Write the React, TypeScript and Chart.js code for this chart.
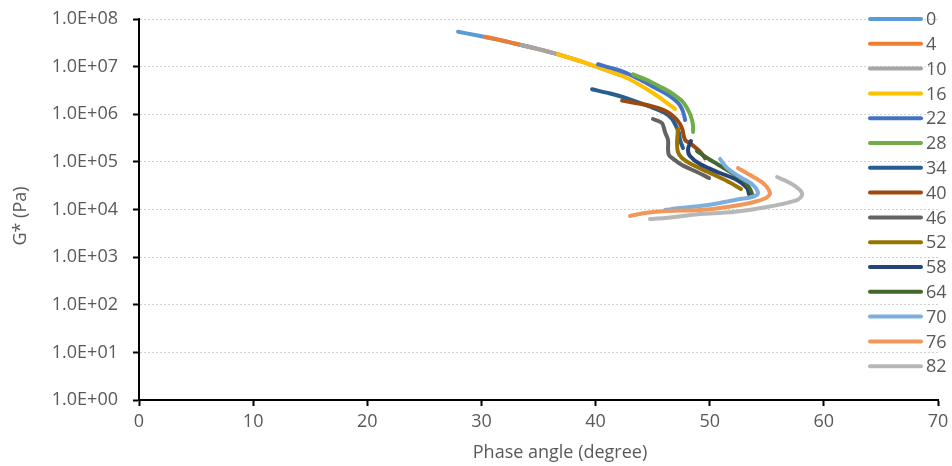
import React, { useEffect, useRef } from 'react';
import { Chart, registerables } from 'chart.js';

Chart.register(...registerables);

// Legend labels (series names)
const seriesNames = ['0', '4', '10', '16', '22', '28', '34', '40', '46', '52', '58', '64', '70', '76', '82'];
const seriesColors = [
  '#5B9BD5', '#ED7D31', '#A5A5A5', '#FFC000', '#4472C4', '#70AD47', '#255E91', '#9E480E',
  '#636363', '#997300', '#264478', '#43682B', '#7CAFDD', '#F1975A', '#B7B7B7',
];

// Axis ticks
const xTicks = [0, 10, 20, 30, 40, 50, 60, 70];
const yTicks = [1, 1e1, 1e2, 1e3, 1e4, 1e5, 1e6, 1e7, 1e8];

// Phase angle (degree) and G* (Pa) for each series
const phase0 = [27.95, 29.44, 30.75, 32.07, 33.38, 34.69];
const gstar0 = [5.41e7, 4.61e7, 3.99e7, 3.40e7, 2.87e7, 2.43e7];

const phase4 = [30.31, 31.63, 33.38, 35.13, 36.88, 38.64];
const gstar4 = [4.25e7, 3.62e7, 2.87e7, 2.29e7, 1.76e7, 1.31e7];

const phase10 = [33.47, 35.13, 36.88, 38.64, 40.39, 42.14];
const gstar10 = [2.85e7, 2.29e7, 1.76e7, 1.31e7, 9.35e6, 6.67e6];

const phase16 = [36.71, 38.2, 39.78, 41.27, 42.75, 43.89, 45.03, 45.91, 46.52, 46.96];
const gstar16 = [1.82e7, 1.41e7, 1.06e7, 7.91e6, 5.77e6, 4.11e6, 2.79e6, 1.99e6, 1.56e6, 1.29e6];

const phase22 = [40.21, 41.53, 42.75, 43.89, 45.03, 46.08, 46.79, 47.31, 47.57, 47.75, 47.84];
const gstar22 = [1.12e7, 9.14e6, 7.24e6, 5.37e6, 3.79e6, 2.79e6, 2.16e6, 1.64e6, 1.29e6, 9.64e5, 7.57e5];

const phase28 = [43.28, 44.51, 45.65, 46.52, 47.14, 47.66, 48.01, 48.27, 48.45, 48.54, 48.54];
const gstar28 = [6.9e6, 5.24e6, 3.79e6, 2.93e6, 2.3e6, 1.81e6, 1.35e6, 1.01e6, 7.57e5, 5.66e5, 4.24e5];

const phase34 = [39.69, 41.27, 42.75, 44.77, 46.08, 46.7, 47.05, 47.31, 47.4, 47.66];
const gstar34 = [3.34e6, 2.73e6, 2.16e6, 1.44e6, 1.06e6, 7.94e5, 5.66e5, 4.04e5, 2.88e5, 1.95e5];

const phase40 = [42.32, 44.51, 46.26, 47.14, 47.57, 47.84, 48.3, 49.15, 49.59];
const gstar40 = [1.93e6, 1.56e6, 1.13e6, 7.57e5, 5.07e5, 2.88e5, 2.45e5, 1.64e5, 1.19e5];

const phase46 = [45.03, 45.82, 46.08, 46.35, 46.35, 46.43, 46.7, 47.57, 48.89, 49.94];
const gstar46 = [7.94e5, 6.55e5, 4.24e5, 2.88e5, 1.77e5, 1.39e5, 1.21e5, 8.59e4, 6.12e4, 4.58e4];

const phase52 = [47.22, 47.14, 47.22, 47.57, 48.36, 49.85, 51.52, 52.74];
const gstar52 = [4.9e5, 2.49e5, 1.61e5, 1.21e5, 9.02e4, 6.12e4, 3.96e4, 2.69e4];

const phase58 = [48.36, 48.1, 48.27, 49.15, 50.9, 52.39, 53.27, 53.44];
const gstar58 = [2.74e5, 1.86e5, 1.33e5, 9.02e4, 5.83e4, 4.16e4, 2.82e4, 2.11e4];

const phase64 = [48.89, 49.76, 51.52, 52.92, 53.53, 53.71];
const gstar64 = [1.69e5, 1.21e5, 6.75e4, 4.16e4, 2.69e4, 2.11e4];

const phase70 = [50.9, 51.52, 52.65, 53.79, 54.23, 53.71, 52.65, 50.9, 49.15, 47.4, 46.08];
const gstar70 = [1.15e5, 7.43e4, 4.81e4, 3.27e4, 2.22e4, 1.83e4, 1.66e4, 1.37e4, 1.18e4, 1.07e4, 9.75e3];

const phase76 = [52.48, 53.53, 54.67, 55.28, 54.93, 53.53, 50.9, 49.15, 46.26, 44.33, 43.02];
const gstar76 = [7.43e4, 5.3e4, 3.6e4, 2.22e4, 1.74e4, 1.37e4, 1.07e4, 9.75e3, 9.3e3, 8.45e3, 7.31e3];

const phase82 = [55.9, 57.04, 57.91, 58.09, 57.65, 55.02, 52.04, 49.15, 47.66, 46.08, 44.77];
const gstar82 = [4.81e4, 3.6e4, 2.56e4, 2.01e4, 1.58e4, 1.13e4, 8.87e3, 8.05e3, 7.31e3, 6.64e3, 6.32e3];

const phaseSeries = [phase0, phase4, phase10, phase16, phase22, phase28, phase34, phase40, phase46, phase52, phase58, phase64, phase70, phase76, phase82];
const gstarSeries = [gstar0, gstar4, gstar10, gstar16, gstar22, gstar28, gstar34, gstar40, gstar46, gstar52, gstar58, gstar64, gstar70, gstar76, gstar82];

const xTitle = 'Phase angle (degree)';
const yTitle = 'G* (Pa)';

const FONT = '"Open Sans", "Noto Sans", sans-serif';
const TEXT_COLOR = '#595959';

export default function App() {
  const ref = useRef<HTMLCanvasElement>(null);

  useEffect(() => {
    document.body.style.margin = '0';
    const canvas = ref.current;
    if (!canvas) return;

    const datasets = seriesNames.map((name, i) => ({
      label: name,
      data: phaseSeries[i].map((p, j) => ({ x: p, y: gstarSeries[i][j] })),
      borderColor: seriesColors[i],
      backgroundColor: seriesColors[i],
      borderWidth: 4,
      pointRadius: 0,
      pointHoverRadius: 0,
      showLine: true,
      tension: 0.3,
      borderCapStyle: 'round' as const,
      borderJoinStyle: 'round' as const,
      order: seriesNames.length - i,
    }));

    const overlayPlugin = {
      id: 'overlay',
      afterDraw(chart: any) {
        const ctx = chart.ctx;
        const area = chart.chartArea;
        ctx.save();
        // legend
        ctx.font = `18px ${FONT}`;
        ctx.textBaseline = 'middle';
        ctx.textAlign = 'left';
        chart.data.datasets.forEach((ds: any, i: number) => {
          const y = area.top + 24.8 * i;
          ctx.strokeStyle = ds.borderColor;
          ctx.lineWidth = 4;
          ctx.lineCap = 'round';
          ctx.beginPath();
          ctx.moveTo(870, y);
          ctx.lineTo(921, y);
          ctx.stroke();
          ctx.fillStyle = TEXT_COLOR;
          ctx.fillText(ds.label, 926, y + 1);
        });
        // axis titles
        ctx.fillStyle = TEXT_COLOR;
        ctx.font = `18px ${FONT}`;
        ctx.textAlign = 'center';
        ctx.textBaseline = 'middle';
        ctx.fillText(xTitle, 560, 453);
        ctx.translate(21, 216);
        ctx.rotate(-Math.PI / 2);
        ctx.fillText(yTitle, 0, 0);
        ctx.restore();
      },
    };

    const chart = new Chart(canvas, {
      type: 'scatter',
      data: { datasets },
      options: {
        responsive: false,
        animation: false,
        events: [],
        layout: { padding: { top: 19, right: 14, left: 0, bottom: 0 } },
        plugins: {
          legend: { display: false },
          tooltip: { enabled: false },
          title: { display: false },
        },
        scales: {
          x: {
            type: 'linear',
            min: 0,
            max: 70,
            afterBuildTicks: (s: any) => {
              s.ticks = xTicks.map((v) => ({ value: v }));
            },
            afterFit: (s: any) => {
              s.height = 66;
              s.paddingLeft = 0;
              s.paddingRight = 0;
            },
            ticks: {
              color: TEXT_COLOR,
              font: { family: FONT, size: 18 },
              padding: 5,
              maxRotation: 0,
            },
            grid: {
              drawOnChartArea: false,
              drawTicks: true,
              tickLength: 6,
              tickColor: '#000000',
              tickWidth: 2,
            },
            border: { display: true, color: '#000000', width: 2 },
          },
          y: {
            type: 'logarithmic',
            min: 1,
            max: 1e8,
            afterBuildTicks: (s: any) => {
              s.ticks = yTicks.map((v) => ({ value: v }));
            },
            afterFit: (s: any) => {
              s.width = 139;
              s.paddingTop = 0;
              s.paddingBottom = 0;
            },
            ticks: {
              color: TEXT_COLOR,
              font: { family: FONT, size: 18 },
              padding: 15,
              callback: (v: any) => {
                const e = Math.round(Math.log10(Number(v)));
                return '1.0E+' + String(e).padStart(2, '0');
              },
            },
            grid: {
              color: '#D0D0D0',
              lineWidth: 1,
              drawTicks: true,
              tickLength: 6,
              tickColor: '#000000',
              tickWidth: 2,
              tickBorderDash: [],
            },
            border: { display: true, color: '#000000', width: 2, dash: [2, 2] },
          },
        },
      },
      plugins: [overlayPlugin],
    } as any);

    return () => chart.destroy();
  }, []);

  return (
    <div style={{ width: 952, height: 466 }}>
      <canvas ref={ref} width={952} height={466} style={{ display: 'block' }} />
    </div>
  );
}
